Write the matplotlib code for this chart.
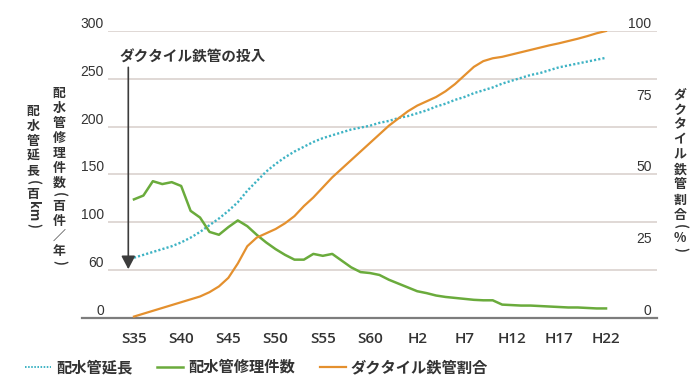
import matplotlib
matplotlib.use('Agg')
import matplotlib.pyplot as plt
from matplotlib.lines import Line2D

plt.rcParams['font.family'] = ['Noto Sans CJK JP', 'DejaVu Sans']

# data
years = list(range(1960, 2011))
tick_years = [1960, 1965, 1970, 1975, 1980, 1985, 1990, 1995, 2000, 2005, 2010]
tick_names = ['S35', 'S40', 'S45', 'S50', 'S55', 'S60', 'H2', 'H7', 'H12', 'H17', 'H22']

# 配水管延長 (百km)
pipe_length = [63, 66, 69, 72, 75, 79, 84, 90, 97, 104,
               112, 121, 133, 143, 153, 161, 168, 174, 179, 184,
               188, 191, 194, 197, 199, 201, 204, 206, 209, 211,
               214, 217, 221, 224, 228, 231, 235, 238, 241, 245,
               248, 251, 254, 256, 259, 262, 264, 266, 268, 270,
               272]
# 配水管修理件数 (百件/年)
repairs = [124, 128, 143, 140, 142, 138, 112, 105, 90, 87,
           95, 102, 96, 87, 79, 72, 66, 61, 61, 67,
           65, 67, 60, 53, 48, 47, 45, 40, 36, 32,
           28, 26, 23.5, 22, 21, 20, 19, 18.5, 18.5, 14,
           13.5, 13, 13, 12.5, 12, 11.5, 11, 11, 10.5, 10,
           10]
# ダクタイル鉄管割合 (%)
ductile_share = [0.5, 1.5, 2.5, 3.5, 4.5, 5.5, 6.5, 7.5, 9, 11,
                 14, 19, 25, 28, 29.5, 31, 33, 35.5, 39, 42,
                 45.5, 49, 52, 55, 58, 61, 64, 67, 69.5, 72,
                 74, 75.5, 77, 79, 81.5, 84.5, 87.5, 89.5, 90.5, 91,
                 91.8, 92.6, 93.4, 94.2, 95, 95.7, 96.5, 97.3, 98.2, 99.2,
                 100]

left_ticks = [0, 50, 100, 150, 200, 250, 300]
left_labels = ['0', '60', '100', '150', '200', '250', '300']
right_ticks = [0, 25, 50, 75, 100]

intro_year = 1959.4      # ダクタイル鉄管の投入
arrow_from, arrow_to = 262, 51

c_len = '#3eb3c4'
c_rep = '#6aab3c'
c_duc = '#e4902e'
c_txt = '#333333'

W, H = 690, 379
fig = plt.figure(figsize=(W / 100, H / 100), dpi=100)
ax = fig.add_axes([108 / W, 1 - 318 / H, (657 - 108) / W, (318 - 31) / H])

ax.plot(years, pipe_length, color=c_len, lw=1.7, linestyle=(0, (0.9, 0.9)), zorder=3)
ax.plot(years, repairs, color=c_rep, lw=1.8, zorder=3)

ax.set_xlim(1957.25, 2015.4)
ax.set_ylim(0, 300)
ax.set_xticks(tick_years, tick_names)
ax.set_yticks(left_ticks, left_labels)
ax.tick_params(axis='x', length=0, pad=10, labelsize=11, labelcolor=c_txt)
ax.tick_params(axis='y', length=0, pad=3, labelsize=10, labelcolor=c_txt)
for t in ax.get_xticklabels():
    t.set_fontfamily(['Open Sans', 'DejaVu Sans'])
    t.set_fontweight('semibold')
for t in ax.get_yticklabels():
    t.set_fontfamily(['Liberation Sans Narrow', 'Liberation Sans'])
    t.set_va('bottom')
ax.grid(axis='y', color='#ddd6d2', lw=1.3)
ax.set_axisbelow(True)
for s in ax.spines.values():
    s.set_visible(False)
# bottom axis line, running on a bit to the left of the grid
ax.plot([-(108 - 82) / 549, 1], [0, 0], transform=ax.transAxes, color='#7d7d7d',
        lw=1.6, clip_on=False, zorder=4)

ax2 = ax.twinx()
ax2.plot(years, ductile_share, color=c_duc, lw=1.6, zorder=3)
ax2.set_ylim(0, 100)
ax2.set_yticks(right_ticks)
ax2.tick_params(axis='y', length=0, pad=-4, labelsize=10, labelcolor=c_txt)
for t in ax2.get_yticklabels():
    t.set_fontfamily(['Liberation Sans Narrow', 'Liberation Sans'])
    t.set_ha('right')
    t.set_va('bottom')
for s in ax2.spines.values():
    s.set_visible(False)

# arrow for the introduction of ductile iron pipe
ax.annotate('', xy=(intro_year, arrow_to), xytext=(intro_year, arrow_from),
            arrowprops=dict(arrowstyle='-|>,head_length=0.8,head_width=0.42',
                            color='#3c3c3c', lw=1.2, mutation_scale=10,
                            shrinkA=0, shrinkB=0), zorder=5)
fig.text(119 / W, 1 - 57 / H, 'ダクタイル鉄管の投入', fontsize=10.5, color=c_txt,
         fontweight='bold', ha='left', va='center')


# stacked vertical axis titles, one character at a time
def vlabel(x, y_top, parts, size=9.3):
    y = y_top
    for s, h, rot in parts:
        fig.text(x / W, 1 - (y + h / 2) / H, s, rotation=rot, ha='center', va='center',
                 fontsize=size, color=c_txt, fontweight='bold')
        y += h


step = 15
vlabel(33, 103, [(c, step, 0) for c in '配水管延長'] +
       [('(', 8, 270), ('百', step, 0), ('km', 20, 270), (')', 8, 270)])
vlabel(59, 85, [(c, step, 0) for c in '配水管修理件数'] +
       [('(', 8, 270)] + [(c, step, 0) for c in '百件／年'] + [(')', 8, 270)])
vlabel(680, 87, [(c, step, 0) for c in 'ダクタイル鉄管割合'] +
       [('(', 8, 270), ('%', step, 0), (')', 8, 270)])

handles = [
    Line2D([0], [0], color=c_len, lw=1.4, linestyle=(0, (0.8, 0.8))),
    Line2D([0], [0], color=c_rep, lw=1.8),
    Line2D([0], [0], color=c_duc, lw=1.6),
]
fig.legend(handles, ['配水管延長', '配水管修理件数', 'ダクタイル鉄管割合'],
           loc='center left', bbox_to_anchor=(25 / W, 1 - 367 / H), ncol=3,
           frameon=False, handlelength=1.7, handletextpad=0.35, columnspacing=1.6,
           borderpad=0, borderaxespad=0, prop={'size': 11, 'weight': 'bold'},
           labelcolor=c_txt)

fig.savefig('out.png', dpi=100)
